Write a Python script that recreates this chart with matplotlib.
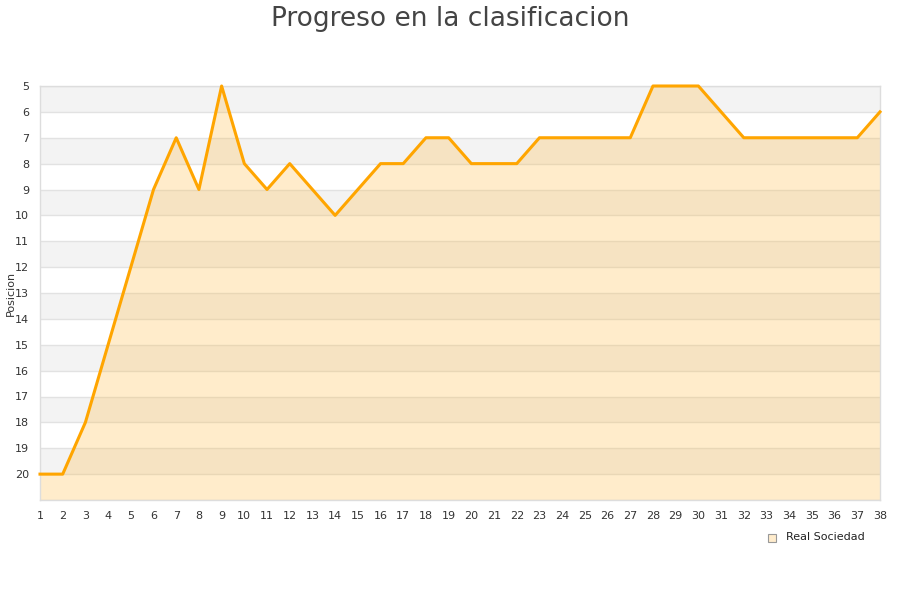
import numpy as np
import matplotlib.pyplot as plt

# Jornadas y posicion de la Real Sociedad
jornadas = list(range(1, 39))
posicion = [20, 20, 18, 15, 12, 9, 7, 9, 5, 8,
            9, 8, 9, 10, 9, 8, 8, 7, 7, 8,
            8, 8, 7, 7, 7, 7, 7, 5, 5, 5,
            6, 7, 7, 7, 7, 7, 7, 6]
equipo = "Real Sociedad"

fig = plt.figure(figsize=(9, 6), dpi=100)
ax = fig.add_axes([40 / 900, 1 - 500 / 600, 840 / 900, 414 / 600])

y_min, y_max = 5, 21

# bandas alternas gris / blanco
for k in range(y_min, y_max, 2):
    ax.axhspan(k, k + 1, color="#f3f3f3", zorder=0, lw=0)
for k in range(y_min, y_max + 1):
    ax.axhline(k, color="#e2e2e2", lw=1, zorder=1)

ax.fill_between(jornadas, posicion, y_max, color="#ffb733", alpha=0.25,
                lw=0, zorder=2)
ax.plot(jornadas, posicion, color="#ffa500", lw=2.2, zorder=3, clip_on=False,
        label=equipo)

ax.set_xlim(1, 38)
ax.set_ylim(y_max, y_min)
ax.set_xticks(jornadas)
ax.set_yticks(range(5, 21))
ax.tick_params(axis="both", length=0, labelsize=8, colors="#333333")
ax.tick_params(axis="x", pad=8)
ax.tick_params(axis="y", pad=8)
for s in ax.spines.values():
    s.set_color("#dddddd")
    s.set_linewidth(1)

fig.text(11 / 900, 1 - 293 / 600, "Posicion", fontsize=8, color="#333333",
         rotation=90, ha="center", va="center")

fig.suptitle("Progreso en la clasificacion", fontsize=19, color="#444444",
             y=0.99)

# leyenda
fig.patches.append(plt.Rectangle((768 / 900, 1 - 542 / 600), 8 / 900, 8 / 600,
                                 transform=fig.transFigure,
                                 facecolor="#ffeccc", edgecolor="#999999",
                                 lw=0.8))
fig.text(786 / 900, 1 - 537 / 600, equipo, fontsize=8, color="#222222",
         va="center", ha="left")

fig.savefig("out.png", dpi=100)
